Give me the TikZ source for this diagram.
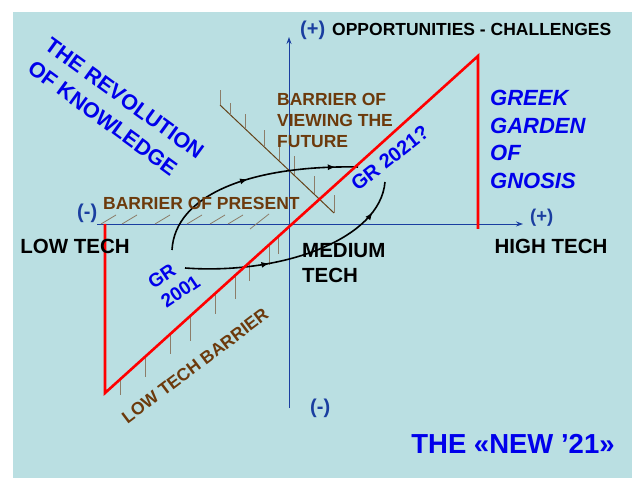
\documentclass[tikz,border=0pt]{standalone}
\usepackage{fontspec}
\setmainfont{Liberation Sans}
\usetikzlibrary{arrows.meta,decorations.markings,calc}

\definecolor{bgcyan}{RGB}{186,223,226}
\definecolor{axisblue}{RGB}{26,62,160}
\definecolor{txtblue}{RGB}{0,0,235}
\definecolor{barbrown}{RGB}{108,58,12}
\definecolor{hatchgray}{RGB}{140,125,105}
\definecolor{futline}{RGB}{100,66,24}

\tikzset{
  lbl/.style={inner sep=0pt, font=\bfseries},
  axisline/.style={draw=axisblue, line width=0.9pt, -{Stealth[length=7pt,width=5pt]}},
  redline/.style={draw=red, line width=2.6pt, line join=miter},
  tickline/.style={draw=hatchgray, line width=0.8pt},
  futureline/.style={draw=futline, line width=1pt},
  cyclepath/.style 2 args={draw=black, line width=1.6pt,
    postaction={decorate},
    decoration={markings,
      mark=at position #1 with {\arrow{Latex[length=8pt,width=6pt]}},
      mark=at position #2 with {\arrow{Latex[length=8pt,width=6pt]}}}},
  pm/.style={lbl, text=axisblue, font=\bfseries\fontsize{20pt}{24pt}\selectfont},
}

\begin{document}
\begin{tikzpicture}[x=1pt,y=-1pt]
  \useasboundingbox (0,0) rectangle (632,478);
  \fill[white] (0,0) rectangle (632,478);
  \fill[bgcyan] (13,12) rectangle (632,478);

  % axes
  \coordinate (xl) at (97,224);
  \coordinate (xr) at (523,224);
  \coordinate (yb) at (289,408);
  \coordinate (yt) at (289,37);
  \draw[axisline] (xl) -- (xr);
  \draw[axisline] (yb) -- (yt);

  % barrier of present: slanted hatch above the horizontal axis
  \foreach \x in {101,122,155,187,210,228}
    \draw[tickline] (\x,224) -- ++(15,-9);
  \draw[tickline] (250,229) -- ++(19,-15);

  % barrier of viewing the future
  \coordinate (f1) at (220,105);
  \coordinate (f2) at (334,213);
  \draw[futureline] (f1) -- (f2);
  \foreach \t/\l in {0/15,0.088/12,0.219/15,0.386/17,0.518/18,0.649/19,0.825/18,1/18}
    \draw[tickline] ($(f1)!\t!(f2)$) -- ++(0,-\l);

  % red staircase: low tech up to the Greek garden
  \coordinate (ra) at (105,224);
  \coordinate (rb) at (105,393);
  \coordinate (rc) at (478,56);
  \coordinate (rd) at (478,229);

  % low tech barrier: ticks hanging below the diagonal
  \foreach \t/\l in {0.040/15,0.107/20,0.174/20,0.228/25,0.295/20,0.349/24,0.386/18,0.440/20,0.466/18}
    \draw[tickline] ($(rb)!\t!(rc)$) -- ++(0,\l);

  % development cycle from 2001 to 2021
  \coordinate (c1s) at (172,250);
  \coordinate (c1e) at (358,167);
  \coordinate (c2s) at (185,268);
  \coordinate (c2e) at (385,182);
  \draw[cyclepath={0.5}{0.9}] (c1s) .. controls (175,195) and (250,165) .. (c1e);
  \draw[cyclepath={0.36}{0.86}] (c2s) .. controls (280,275) and (380,240) .. (c2e);

  \draw[redline] (ra) -- (rb) -- (rc) -- (rd);

  % labels
  \node[pm, anchor=base west] (yplus) at (300,36) {(+)};
  \node[lbl, font=\bfseries\fontsize{17.5pt}{21pt}\selectfont, anchor=base west] (ytitle) at (332,36) {OPPORTUNITIES - CHALLENGES};
  \node[pm, anchor=base west] (xminus) at (77,219) {(-)};
  \node[pm, anchor=base west, font=\bfseries\fontsize{18.5pt}{22pt}\selectfont] (xplus) at (530,223) {(+)};
  \node[pm, anchor=base west] (yminus) at (310,413) {(-)};

  \node[lbl, text=txtblue, font=\bfseries\fontsize{21.5pt}{29pt}\selectfont, rotate=-36, align=left] (revol) at (116,110) {THE REVOLUTION\\OF KNOWLEDGE};

  \node[lbl, text=barbrown, font=\bfseries\fontsize{17.5pt}{21pt}\selectfont, align=left, anchor=north west] (viewfut) at (277,93) {BARRIER OF\\VIEWING THE\\FUTURE};
  \node[lbl, text=barbrown, font=\bfseries\fontsize{17.5pt}{21pt}\selectfont, anchor=base west] (present) at (103,210) {BARRIER OF PRESENT};

  \node[lbl, font=\bfseries\fontsize{20.5pt}{25pt}\selectfont] (low) at (75,246) {LOW TECH};
  \node[lbl, font=\bfseries\fontsize{20.5pt}{25pt}\selectfont] (high) at (551,246) {HIGH TECH};
  \node[lbl, font=\bfseries\fontsize{20.5pt}{25pt}\selectfont, align=left, anchor=north west] (medium) at (302,243) {MEDIUM\\TECH};

  \node[lbl, text=txtblue, font=\bfseries\itshape\fontsize{22pt}{27.7pt}\selectfont, align=left, anchor=north west] (garden) at (490,90) {GREEK\\GARDEN\\OF\\GNOSIS};

  \node[lbl, text=txtblue, font=\bfseries\fontsize{20pt}{24pt}\selectfont, rotate=38] (gr21) at (390,158) {GR 2021?};
  \node[lbl, text=txtblue, font=\bfseries\fontsize{19pt}{23pt}\selectfont, rotate=34, align=left] (gr01) at (174,282) {GR\\2001};

  \node[lbl, text=barbrown, font=\bfseries\fontsize{17.5pt}{22pt}\selectfont, rotate=37] (lowbar) at (195,366) {LOW TECH BARRIER};

  \node[lbl, text=txtblue, font=\bfseries\fontsize{27.5pt}{32pt}\selectfont] (new21) at (513,444) {THE «NEW ’21»};
\end{tikzpicture}
\end{document}
